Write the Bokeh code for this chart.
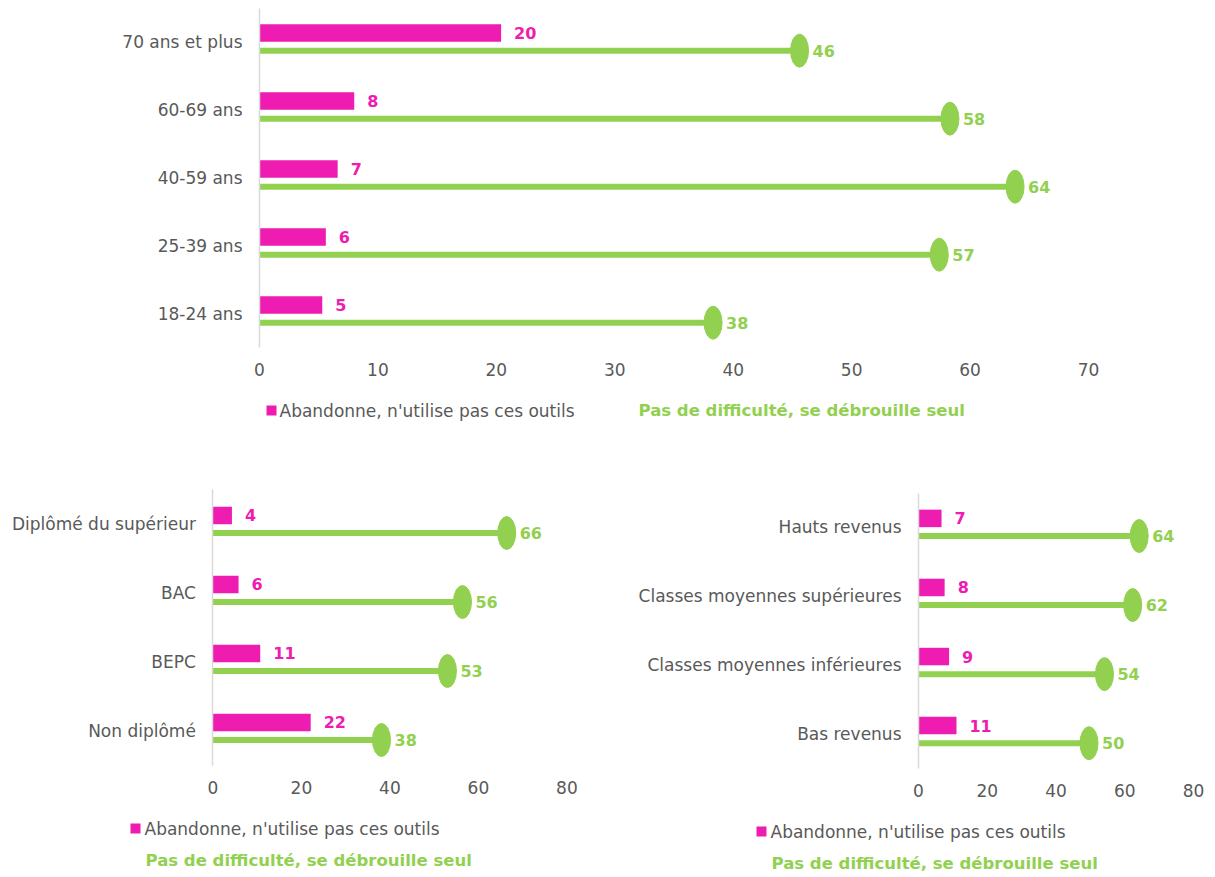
from bokeh.plotting import figure
from bokeh.models import Range1d, FixedTicker, ColumnDataSource, LinearAxis
from bokeh.layouts import column, row
from bokeh.embed import file_html
from bokeh.resources import INLINE
from bokeh.core.properties import value

PINK = "#EE1CB0"
GREEN = "#92D050"
GRAY = "#595959"
AXIS = "#D9D9D9"
FONT = "DejaVu Sans"

LEG_ABANDON = "Abandonne, n'utilise pas ces outils"
LEG_AUTONOME = "Pas de difficulté, se débrouille seul"

# --- Age panel (top) ---
age_categories = ["70 ans et plus", "60-69 ans", "40-59 ans", "25-39 ans", "18-24 ans"]
age_abandon = [20.4, 8.0, 6.6, 5.6, 5.3]
age_autonome = [45.6, 58.3, 63.8, 57.4, 38.3]
age_ticks = [0, 10, 20, 30, 40, 50, 60, 70]

# --- Diploma panel (bottom left) ---
dip_categories = ["Diplômé du supérieur", "BAC", "BEPC", "Non diplômé"]
dip_abandon = [4.3, 5.8, 10.7, 22.1]
dip_autonome = [66.4, 56.4, 53.0, 38.1]
dip_ticks = [0, 20, 40, 60, 80]

# --- Income panel (bottom right) ---
rev_categories = ["Hauts revenus", "Classes moyennes supérieures",
                  "Classes moyennes inférieures", "Bas revenus"]
rev_abandon = [6.7, 7.6, 8.9, 11.05]
rev_autonome = [64.2, 62.3, 54.1, 49.6]
rev_ticks = [0, 20, 40, 60, 80]


def panel(cats, ab, au, ticks, geo, leg):
    """geo: page-pixel geometry of the panel; the frame fills the whole figure."""
    ox, oy, W, H, zero_px, ppu, c0_px, step_px, ax_top_px, ax_bot_px = geo
    n = len(cats)
    ys = [n - 1 - i for i in range(n)]

    def dx(px):
        return (px - zero_px) / ppu

    def dy(py):
        return (n - 1) - (py - c0_px) / step_px

    off = 8.8 / step_px
    src = ColumnDataSource(dict(
        y_ab=[y + off for y in ys], y_au=[y - off for y in ys],
        ab=ab, au=au, zero=[0] * n,
        ab_txt=[f"{v:.0f}" for v in ab], au_txt=[f"{v:.0f}" for v in au]))

    p = figure(width=W, height=H,
               x_range=Range1d(dx(ox), dx(ox + W)),
               y_range=Range1d(dy(oy + H), dy(oy)),
               output_backend="svg", toolbar_location=None,
               x_axis_type=None, y_axis_type=None,
               min_border=0, min_border_left=0, min_border_right=0,
               min_border_top=0, min_border_bottom=0)
    p.outline_line_color = None
    p.grid.visible = False
    p.background_fill_color = "white"
    p.border_fill_color = "white"

    p.hbar(y="y_ab", left=0, right="ab", height=17.5 / step_px, fill_color=PINK,
           line_color=None, source=src)
    p.segment(x0="zero", y0="y_au", x1="au", y1="y_au", line_color=GREEN,
              line_width=6, line_cap="butt", source=src)
    p.ellipse(x="au", y="y_au", width=18, height=33, width_units="screen",
              height_units="screen", fill_color=GREEN, line_color=GREEN, source=src)
    p.text(x="ab", y="y_ab", text="ab_txt", x_offset=13, text_baseline="middle",
           text_align="left", text_color=PINK, text_font=value(FONT),
           text_font_style="bold", text_font_size="16px", source=src)
    p.text(x="au", y="y_au", text="au_txt", x_offset=13, text_baseline="middle",
           text_align="left", text_color=GREEN, text_font=value(FONT),
           text_font_style="bold", text_font_size="16px", source=src)

    yax = LinearAxis(fixed_location=0, ticker=FixedTicker(ticks=ys),
                     major_label_overrides={y: c for y, c in zip(ys, cats)},
                     bounds=(dy(ax_bot_px), dy(ax_top_px)),
                     axis_line_color=AXIS, axis_line_width=1.5,
                     major_tick_line_color=None, minor_tick_line_color=None,
                     major_label_standoff=11)
    xax = LinearAxis(fixed_location=dy(ax_bot_px), ticker=FixedTicker(ticks=ticks),
                     axis_line_color=None, major_tick_line_color=None,
                     minor_tick_line_color=None, major_label_standoff=9)
    for ax in (xax, yax):
        ax.major_label_text_font = FONT
        ax.major_label_text_font_size = "17px"
        ax.major_label_text_color = GRAY
    p.add_layout(yax, "left")
    p.add_layout(xax, "below")

    # legend (drawn inside the frame, which fills the figure)
    (sqx, sqy), (tx, ty), (gx, gy) = leg
    p.quad(left=[dx(sqx)], right=[dx(sqx + 10)], top=[dy(sqy)], bottom=[dy(sqy + 10)],
           fill_color=PINK, line_color=None)
    p.text(x=[dx(tx)], y=[dy(ty)], text=[LEG_ABANDON], text_baseline="middle",
           text_align="left", text_color=GRAY, text_font=value(FONT),
           text_font_size="17px")
    p.text(x=[dx(gx)], y=[dy(gy)], text=[LEG_AUTONOME], text_baseline="middle",
           text_align="left", text_color=GREEN, text_font=value(FONT),
           text_font_style="bold", text_font_size="16.5px")
    return p


# geometry: ox, oy, W, H, x-zero px, px per unit, first category centre, step,
#           axis top px, axis bottom px (all page pixels)
top = panel(age_categories, age_abandon, age_autonome, age_ticks,
            (0, 0, 1215, 433, 259, 829 / 70, 41.4, 68.0, 8, 347),
            ((266, 405), (279, 410), (638, 410)))

bl = panel(dip_categories, dip_abandon, dip_autonome, dip_ticks,
           (0, 433, 628, 444, 212.4, 354 / 80, 523.7, 69.0, 489, 765),
           ((130, 823), (144, 828), (145, 860)))

br = panel(rev_categories, rev_abandon, rev_autonome, rev_ticks,
           (628, 433, 587, 444, 918, 275 / 80, 526.7, 69.07, 493, 768),
           ((756, 826), (770, 831), (771, 862.7)))

layout = column(top, row(bl, br))
open("out.html", "w").write(file_html(layout, INLINE))
